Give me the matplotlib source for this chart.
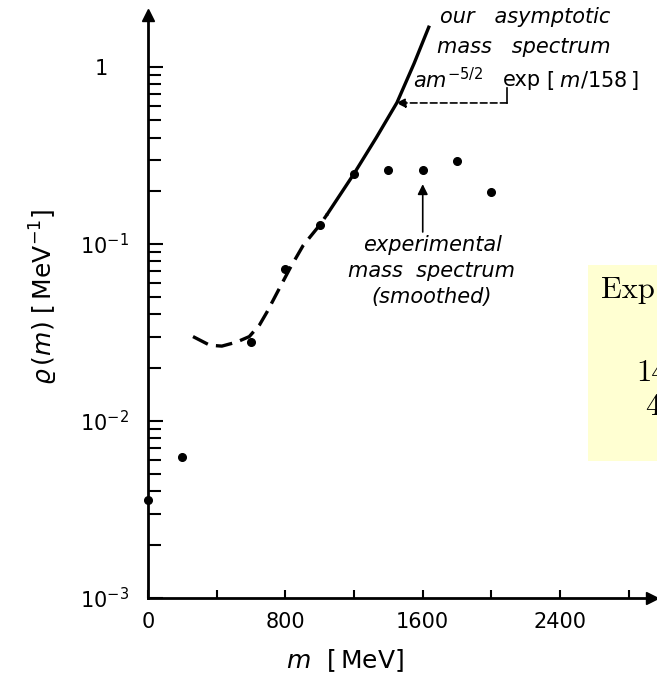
import matplotlib
matplotlib.use("Agg")
import matplotlib.pyplot as plt
from matplotlib.patches import Rectangle
from matplotlib.ticker import NullFormatter, LogLocator

# experimental (smoothed) mass spectrum
exp_m = [0, 200, 600, 800, 1000, 1200, 1400, 1600, 1800, 2000]
exp_rho = [0.0036, 0.0063, 0.028, 0.072, 0.128, 0.25, 0.262, 0.262, 0.294, 0.197]

# asymptotic spectrum, dashed low-mass part and solid part
dash_m = [262, 360, 430, 515, 590, 650, 693, 751, 827, 903, 1000, 1045]
dash_rho = [0.030, 0.0268, 0.0265, 0.0279, 0.030, 0.035, 0.0413, 0.0529, 0.073, 0.098, 0.128, 0.148]
solid_m = [1045, 1200, 1330, 1450, 1550, 1635]
solid_rho = [0.148, 0.25, 0.40, 0.63, 1.05, 1.68]

x_ticks = [0, 800, 1600, 2400]
x_minor = [400, 1200, 2000, 2800]
y_ticks = [1e-3, 1e-2, 1e-1, 1]
y_labels = [r"$10^{-3}$", r"$10^{-2}$", r"$10^{-1}$", "1   "]

plt.rcParams["mathtext.fontset"] = "dejavusans"

fig = plt.figure(figsize=(6.57, 6.87), dpi=100)
ax = fig.add_axes([0.2253, 0.1296, 0.767, 0.8486])
ax.set_yscale("log")
ax.set_xlim(0, 2935)
ax.set_ylim(1e-3, 1.97)

ax.plot(dash_m, dash_rho, color="black", lw=2.4, ls=(0, (5, 2.5)))
ax.plot(solid_m, solid_rho, color="black", lw=2.4)
ax.plot(exp_m, exp_rho, "o", color="black", ms=5.5, clip_on=False)

for s in ["top", "right"]:
    ax.spines[s].set_visible(False)
for s in ["left", "bottom"]:
    ax.spines[s].set_linewidth(2)
ax.plot(1, 0, ">", color="black", ms=9, transform=ax.transAxes, clip_on=False)
ax.plot(0, 1, "^", color="black", ms=9, transform=ax.transAxes, clip_on=False)

ax.set_xticks(x_ticks)
ax.set_xticks(x_minor, minor=True)
ax.set_yticks(y_ticks)
ax.set_yticklabels(y_labels)
ax.yaxis.set_minor_locator(LogLocator(base=10, subs=range(2, 10)))
ax.yaxis.set_minor_formatter(NullFormatter())
ax.tick_params(axis="both", which="both", direction="in", width=1.5, labelsize=15)
ax.tick_params(axis="y", which="major", length=11, pad=14)
ax.tick_params(axis="y", which="minor", length=9)
ax.tick_params(axis="x", which="both", length=6, pad=10)

ax.set_xlabel(r"$m$  $\left[\,\mathrm{MeV}\right]$", fontsize=18)
ax.xaxis.set_label_coords(0.39, -0.085)
ax.set_ylabel(r"$\varrho\,(m)\ \left[\,\mathrm{MeV}^{-1}\right]$", fontsize=18)
ax.yaxis.set_label_coords(-0.175, 0.516)

# annotations for the two spectra
lab = dict(fontsize=15, style="italic", ha="left", va="center", transform=fig.transFigure)
fig.text(440 / 657, 1 - 17 / 687, "our   asymptotic", **lab)
fig.text(437 / 657, 1 - 47 / 687, "mass   spectrum", **lab)
fig.text(413 / 657, 1 - 80 / 687, r"$am^{-5/2}$", **lab)
fig.text(503 / 657, 1 - 80 / 687, "exp", fontsize=15, ha="left", va="center",
         transform=fig.transFigure)
fig.text(546 / 657, 1 - 80 / 687, r"$\left[\;m/158\,\right]$", fontsize=15, ha="left",
         va="center", transform=fig.transFigure)
ax.plot([2091, 2091], [0.76, 0.627], color="black", lw=1.2)
ax.annotate("", xy=(1445, 0.627), xytext=(2091, 0.627),
            arrowprops=dict(arrowstyle="-|>", color="black", lw=1.2, ls=(0, (4, 2)),
                            mutation_scale=14, shrinkA=0, shrinkB=0))

mid = dict(fontsize=15, style="italic", ha="center", va="center", transform=fig.transFigure)
fig.text(432 / 657, 1 - 245 / 687, "experimental", **mid)
fig.text(432 / 657, 1 - 271 / 687, "mass  spectrum", **mid)
fig.text(432 / 657, 1 - 297 / 687, "(smoothed)", **mid)
ax.annotate("", xy=(1600, 0.218), xytext=(1600, 0.117),
            arrowprops=dict(arrowstyle="-|>", color="black", lw=1.2, mutation_scale=15,
                            shrinkA=0, shrinkB=0))

# side note box
fig.patches.append(Rectangle((588 / 657, 1 - 461 / 687), 0.2, 196 / 687,
                             transform=fig.transFigure, facecolor="#ffffd2",
                             edgecolor="none", zorder=0))
box = dict(family="cmr10", fontsize=22, va="center")
fig.text(601 / 657, 1 - 290 / 687, "Exp", **box)
fig.text(636 / 657, 1 - 373 / 687, "14", **box)
fig.text(645 / 657, 1 - 407 / 687, "4", **box)

fig.savefig("out.png", dpi=100)
